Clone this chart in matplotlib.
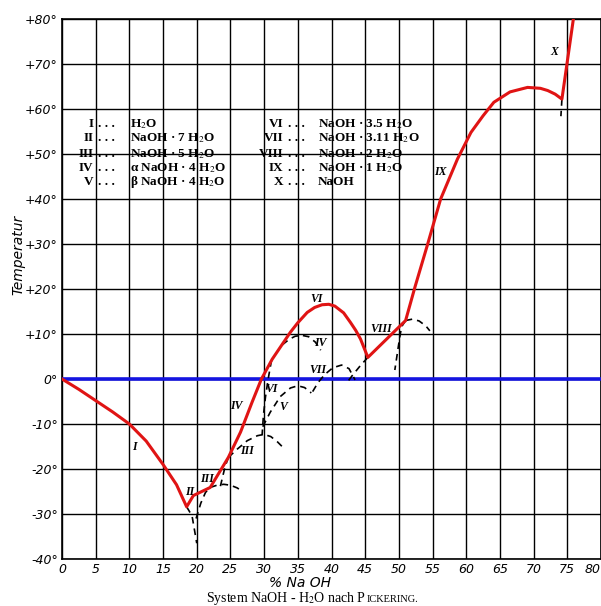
#!/usr/bin/env python3
"""
System NaOH - H2O (Pickering) phase diagram, redrawn from a scanned figure.
"""

import matplotlib
matplotlib.use("Agg")
import matplotlib.pyplot as plt

# liquidus (stable branches), % NaOH vs temperature
stable_x = [0, 2.5, 5, 7.5, 10, 12.5, 15, 17, 18.5, 19.5, 22, 24.7, 26.5, 28.2,
            29.6, 31.2, 33.9, 35.0, 36.4, 37.5, 38.6, 39.6, 40.5, 41.8, 42.8,
            43.6, 44.3, 45.4, 51, 52.4, 54.2, 56.2, 58.7, 60.7, 62.5, 64.1,
            66.5, 69.1, 71, 72.1, 73.2, 74.2, 75.9, 76.2]
stable_t = [0, -2.3, -4.8, -7.3, -10, -13.8, -19, -23.5, -28.4, -25.9, -24.1, -17.4,
            -11.8, -5.2, 0, 4.4, 10.4, 12.5, 14.8, 15.9, 16.5, 16.6, 16.2, 14.7,
            12.6, 10.8, 8.9, 4.8, 13, 20.5, 29.6, 40, 48.9, 54.8, 58.5, 61.5,
            63.8, 64.8, 64.6, 64.1, 63.3, 62.2, 80, 83]

# metastable extensions (dashed)
ice_x, ice_t = [18.5, 19.3, 19.6, 20.0], [-28.4, -30.4, -33, -36.5]
ii_x, ii_t = [22, 23, 24, 25, 26, 26.8], [-24.1, -23.6, -23.4, -23.6, -24.2, -25]
iii_lo_x, iii_lo_t = [19.9, 20.6, 21.3, 22], [-31, -27.6, -25.2, -24.1]
iii_hi_x = [24.7, 26, 27.5, 29, 30, 31, 32, 33]
iii_hi_t = [-17.4, -15.6, -13.7, -12.6, -12.3, -12.8, -14, -15.5]
iv_lo_x, iv_lo_t = [24.7, 24.2, 23.8, 23.4], [-17.4, -19.5, -22, -24.5]
iv_hi_x = [32.7, 33.7, 34.6, 35.6, 36.6, 37.6, 38.4]
iv_hi_t = [7.6, 8.8, 9.5, 9.7, 9.4, 8.2, 6.4]
vi_lo_x, vi_lo_t = [31.1, 30.6, 30.2, 29.9, 29.7], [4.2, 0, -4, -8, -12.5]
v_x = [29.8, 30.9, 32.4, 33.9, 35, 36, 37]
v_t = [-10.6, -7.4, -3.9, -2, -1.5, -1.9, -3.1]
vii_x = [37.2, 38, 39, 40.2, 41.5, 42.6, 43.5]
vii_t = [-2.8, -0.8, 1, 2.5, 3.1, 2.3, -0.2]
viii_lo_x, viii_lo_t = [45.4, 44.3, 43.1, 42.1], [4.8, 3, 0.8, -1.2]
viii_hi_x, viii_hi_t = [51, 52, 53, 54, 54.6], [13, 13.3, 12.9, 11.8, 10.7]
ix_lo_x, ix_lo_t = [51, 50.4, 50.1, 49.8, 49.4], [13, 11.6, 9.0, 6.0, 2.0]
x_lo_x, x_lo_t = [74.2, 74.05], [62.2, 58.4]

# curve labels in the diagram
curve_labels = ["I", "II", "III", "III", "IV", "VI", "V", "IV", "VII", "VI",
                "VIII", "IX", "X"]
curve_label_x = [10.8, 19.0, 21.5, 27.4, 25.9, 31.1, 32.8, 38.3, 38.0, 37.8,
                 47.4, 56.1, 73.1]
curve_label_t = [-15.1, -25.2, -22.2, -15.9, -5.9, -2.2, -6.3, 8.1, 1.9, 17.8,
                 11.1, 45.9, 72.6]

# key: numeral and solid phase
key_left_num = ["I", "II", "III", "IV", "V"]
key_left_phase = ["H$_2$O", "NaOH · 7 H$_2$O", "NaOH · 5 H$_2$O",
                  "α NaOH · 4 H$_2$O", "β NaOH · 4 H$_2$O"]
key_right_num = ["VI", "VII", "VIII", "IX", "X"]
key_right_phase = ["NaOH · 3.5 H$_2$O", "NaOH · 3.11 H$_2$O", "NaOH · 2 H$_2$O",
                   "NaOH · 1 H$_2$O", "NaOH"]
key_rows_t = [56.6, 53.5, 49.9, 46.8, 43.7]

x_ticks = list(range(0, 81, 5))
y_ticks = list(range(-40, 81, 10))
y_tick_labels = ["-40°", "-30°", "-20°", "-10°", "0°", "+10°", "+20°", "+30°",
                 "+40°", "+50°", "+60°", "+70°", "+80°"]

RED = "#e01414"
BLUE = "#1414e0"
SERIF = ["Liberation Serif", "DejaVu Serif"]


def draw_curves(ax):
    """Stable liquidus in red, metastable branches dashed"""
    ax.axhline(0, color=BLUE, lw=2.6, zorder=3)
    ax.plot(stable_x, stable_t, color=RED, lw=2.2, zorder=4,
            solid_joinstyle="round")
    dashed = [(ice_x, ice_t), (ii_x, ii_t), (iii_lo_x, iii_lo_t),
              (iii_hi_x, iii_hi_t), (iv_lo_x, iv_lo_t), (iv_hi_x, iv_hi_t),
              (vi_lo_x, vi_lo_t), (v_x, v_t), (vii_x, vii_t),
              (viii_lo_x, viii_lo_t), (viii_hi_x, viii_hi_t),
              (ix_lo_x, ix_lo_t), (x_lo_x, x_lo_t)]
    for xs, ts in dashed:
        ax.plot(xs, ts, color="black", lw=1.2, ls=(0, (4, 3)), zorder=3)

    for lab, x, t in zip(curve_labels, curve_label_x, curve_label_t):
        ax.text(x, t, lab, family=SERIF, style="italic", weight="bold",
                fontsize=8.5, ha="center", va="center", zorder=5)


def draw_key(ax):
    """Legend block written into the grid"""
    kw = dict(family=SERIF, fontsize=9.5, weight="bold", va="center", zorder=5)
    for num, phase, t in zip(key_left_num, key_left_phase, key_rows_t):
        ax.text(4.7, t, num, ha="right", **kw)
        ax.text(5.3, t, ". . .", ha="left", **kw)
        ax.text(10.1, t, phase, ha="left", **kw)
    for num, phase, t in zip(key_right_num, key_right_phase, key_rows_t):
        ax.text(32.8, t, num, ha="right", **kw)
        ax.text(33.5, t, ". . .", ha="left", **kw)
        ax.text(38.0, t, phase, ha="left", **kw)


def main():
    plt.rcParams["mathtext.fontset"] = "stix"
    fig = plt.figure(figsize=(6.01, 6.06), dpi=100)
    ax = fig.add_axes([62 / 601, 1 - 559 / 606, 539 / 601, 540 / 606])

    ax.set_xlim(0, 80)
    ax.set_ylim(-40, 80)
    ax.set_xticks(x_ticks)
    ax.set_yticks(y_ticks)
    ax.set_xticklabels([str(v) for v in x_ticks])
    ax.set_yticklabels(y_tick_labels)
    ax.tick_params(length=0, pad=3)
    for lab in ax.get_xticklabels() + ax.get_yticklabels():
        lab.set_fontstyle("italic")
        lab.set_fontsize(9)
    ax.get_xticklabels()[-1].set_horizontalalignment("right")
    ax.grid(True, color="black", lw=1.0)
    for sp in ax.spines.values():
        sp.set_linewidth(1.2)

    draw_curves(ax)
    draw_key(ax)

    fig.text(18 / 601, 1 - 255 / 606, "Temperatur", rotation=90, style="italic",
             fontsize=10, ha="center", va="center")
    fig.text(300 / 601, 1 - 583 / 606, "% Na OH", style="italic", fontsize=10,
             ha="center", va="center")

    # caption with small caps for the author name
    cap = fig.text(206 / 601, 1 - 602 / 606, "System NaOH - H$_2$O nach P",
                   family=SERIF, fontsize=10, ha="left", va="baseline")
    fig.canvas.draw()
    bb = cap.get_window_extent().transformed(fig.transFigure.inverted())
    fig.text(bb.x1, 1 - 602 / 606, "ICKERING.", family=SERIF, fontsize=7.5,
             ha="left", va="baseline")

    fig.savefig("out.png", dpi=100)


if __name__ == "__main__":
    main()
